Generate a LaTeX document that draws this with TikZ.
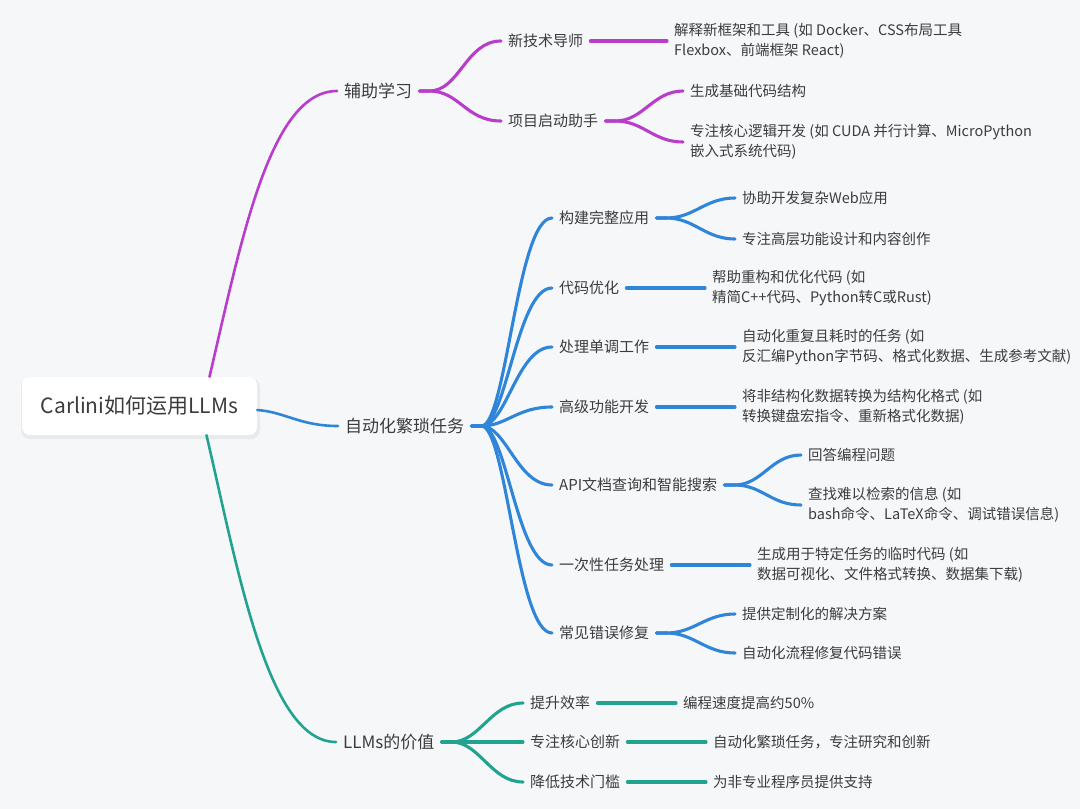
\documentclass[tikz,border=0pt]{standalone}
\usepackage{fontspec}
\setmainfont{Noto Sans CJK SC}
\usetikzlibrary{calc}
\definecolor{bg}{HTML}{F6F7F9}
\definecolor{pu}{HTML}{B83DCB}
\definecolor{bl}{HTML}{2F86D8}
\definecolor{te}{HTML}{22A38F}
\definecolor{tx}{HTML}{3C3C3C}
\begin{document}
\begin{tikzpicture}[x=1pt,y=-1pt,
  every node/.style={text=tx, inner ysep=2pt, inner xsep=7pt},
  rootbox/.style={fill=white, rounded corners=8pt, minimum width=235pt, minimum height=58pt, inner sep=0pt, font=\fontsize{21}{24}\selectfont},
  lone/.style={anchor=west, font=\fontsize{17}{20}\selectfont},
  ltwo/.style={anchor=west, font=\fontsize{15}{20}\selectfont},
  lthree/.style={anchor=west, align=left, font=\fontsize{14.5}{20.5}\selectfont},
  pl/.style={draw=pu, line width=3.1pt, line cap=round},
  bll/.style={draw=bl, line width=3.1pt, line cap=round},
  tl/.style={draw=te, line width=3.1pt, line cap=round},
  rootline/.style={line width=2.6pt, line cap=round}
]
\fill[bg] (0,0) rectangle (1080,809);
\useasboundingbox (0,0) rectangle (1080,809);

% root
\fill[black, opacity=0.05, rounded corners=9pt] (21,378) rectangle (260,439);
\node[rootbox] (r) at (139.5,406) {Carlini如何运用LLMs};

% level 1
\node[lone] (a) at (337,91) {辅助学习};
\node[lone] (b) at (338,426) {自动化繁琐任务};
\node[lone] (c) at (336,742) {LLMs的价值};

% level 2 purple
\node[ltwo] (a1) at (501,41) {新技术导师};
\node[ltwo] (a2) at (501,121) {项目启动助手};
% level 3 purple
\node[lthree] (a1x) at (667,41) {解释新框架和工具 (如 Docker、CSS布局工具\\Flexbox、前端框架 React)};
\node[lthree] (a2x) at (683,91) {生成基础代码结构};
\node[lthree] (a2y) at (683,142) {专注核心逻辑开发 (如 CUDA 并行计算、MicroPython\\嵌入式系统代码)};

% level 2 blue
\node[ltwo] (b1) at (552,218) {构建完整应用};
\node[ltwo] (b2) at (552,288) {代码优化};
\node[ltwo] (b3) at (552,347) {处理单调工作};
\node[ltwo] (b4) at (552,407) {高级功能开发};
\node[ltwo] (b5) at (552,485) {API文档查询和智能搜索};
\node[ltwo] (b6) at (552,565) {一次性任务处理};
\node[ltwo] (b7) at (552,633) {常见错误修复};
% level 3 blue
\node[lthree] (b1x) at (735,198) {协助开发复杂Web应用};
\node[lthree] (b1y) at (735,239) {专注高层功能设计和内容创作};
\node[lthree] (b2x) at (705,288) {帮助重构和优化代码 (如\\精简C++代码、Python转C或Rust)};
\node[lthree] (b3x) at (735,347) {自动化重复且耗时的任务 (如\\反汇编Python字节码、格式化数据、生成参考文献)};
\node[lthree] (b4x) at (735,407) {将非结构化数据转换为结构化格式 (如\\转换键盘宏指令、重新格式化数据)};
\node[lthree] (b5x) at (801,455) {回答编程问题};
\node[lthree] (b5y) at (801,505) {查找难以检索的信息 (如\\bash命令、LaTeX命令、调试错误信息)};
\node[lthree] (b6x) at (750,565) {生成用于特定任务的临时代码 (如\\数据可视化、文件格式转换、数据集下载)};
\node[lthree] (b7x) at (735,614) {提供定制化的解决方案};
\node[lthree] (b7y) at (735,653) {自动化流程修复代码错误};

% level 2 teal
\node[ltwo] (c1) at (523,703) {提升效率};
\node[ltwo] (c2) at (523,742) {专注核心创新};
\node[ltwo] (c3) at (523,782) {降低技术门槛};
% level 3 teal
\node[lthree] (c1x) at (676,703) {编程速度提高约50\%};
\node[lthree] (c2x) at (706,742) {自动化繁琐任务，专注研究和创新};
\node[lthree] (c3x) at (706,782) {为非专业程序员提供支持};

% root connectors
\draw[pu, rootline] ($(r.north)+(70,0)$) .. controls +(32,-137) and +(-67,0) .. (a.west);
\draw[bl, rootline] ($(r.east)+(0,4)$) .. controls +(28,2) and +(-38,0) .. (b.west);
\draw[te, rootline] ($(r.south)+(67,0)$) .. controls +(32,137) and +(-68,0) .. (c.west);

% purple
\draw[pl] (a.east) -- ++(10,0) .. controls +(30,0) and +(-35,0) .. (a1.west);
\draw[pl] (a.east) -- ++(10,0) .. controls +(30,0) and +(-35,0) .. (a2.west);
\draw[pl] (a1.east) -- (a1x.west);
\draw[pl] (a2.east) -- ++(10,0) .. controls +(28,0) and +(-30,0) .. (a2x.west);
\draw[pl] (a2.east) -- ++(10,0) .. controls +(28,0) and +(-30,0) .. (a2y.west);

% blue
\foreach \k in {b1,b2,b3,b4,b5,b6,b7}{
  \draw[bll] (b.east) -- ++(10,0) .. controls +(25,0) and +(-35,0) .. (\k.west);
}
\draw[bll] (b1.east) -- ++(10,0) .. controls +(28,0) and +(-30,0) .. (b1x.west);
\draw[bll] (b1.east) -- ++(10,0) .. controls +(28,0) and +(-30,0) .. (b1y.west);
\draw[bll] (b2.east) -- (b2x.west);
\draw[bll] (b3.east) -- (b3x.west);
\draw[bll] (b4.east) -- (b4x.west);
\draw[bll] (b5.east) -- ++(10,0) .. controls +(28,0) and +(-30,0) .. (b5x.west);
\draw[bll] (b5.east) -- ++(10,0) .. controls +(28,0) and +(-30,0) .. (b5y.west);
\draw[bll] (b6.east) -- (b6x.west);
\draw[bll] (b7.east) -- ++(10,0) .. controls +(28,0) and +(-30,0) .. (b7x.west);
\draw[bll] (b7.east) -- ++(10,0) .. controls +(28,0) and +(-30,0) .. (b7y.west);

% teal
\draw[tl] (c.east) -- ++(10,0) .. controls +(28,0) and +(-32,0) .. (c1.west);
\draw[tl] (c.east) -- (c2.west);
\draw[tl] (c.east) -- ++(10,0) .. controls +(28,0) and +(-32,0) .. (c3.west);
\draw[tl] (c1.east) -- (c1x.west);
\draw[tl] (c2.east) -- (c2x.west);
\draw[tl] (c3.east) -- (c3x.west);
\end{tikzpicture}
\end{document}
